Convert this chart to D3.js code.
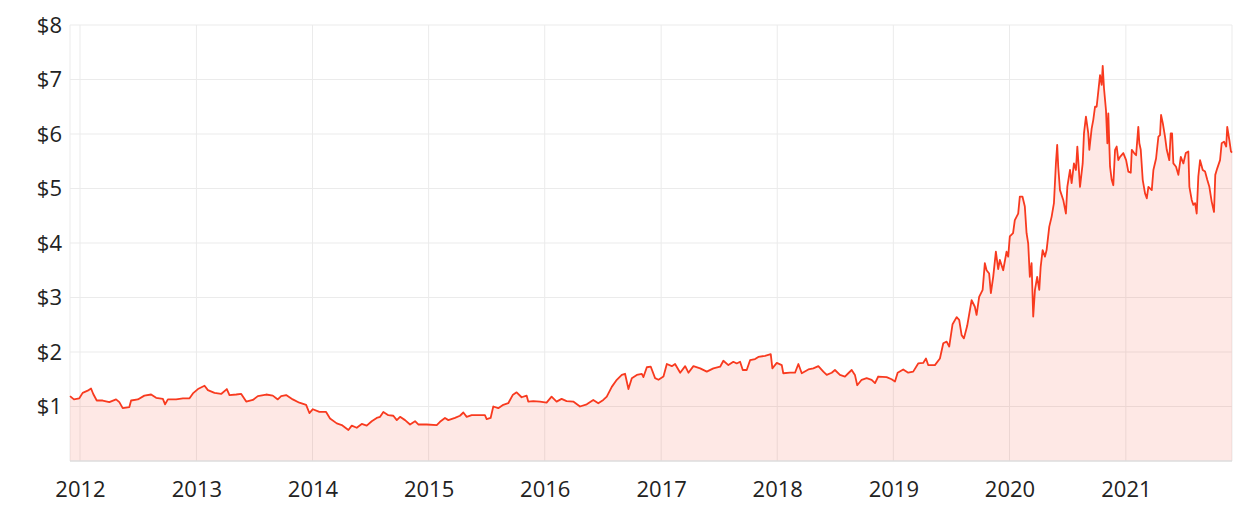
<!DOCTYPE html>
<html>
<head>
<meta charset="utf-8">
<script src="https://cdn.jsdelivr.net/npm/d3@7"></script>
<style>
  html, body { margin: 0; padding: 0; background: #fff; }
  svg { display: block; font-family: "Open Sans", "Noto Sans", sans-serif; }
</style>
</head>
<body>
<svg id="chart" width="1258" height="520"></svg>
<script>
// Time in decimal years, price in dollars
const years = [
  2011.914, 2011.948, 2011.994, 2012.023, 2012.066, 2012.095, 2012.114, 2012.144, 2012.195, 2012.252,
  2012.310, 2012.338, 2012.367, 2012.424, 2012.439, 2012.497, 2012.553, 2012.611, 2012.654, 2012.712,
  2012.731, 2012.755, 2012.826, 2012.884, 2012.941, 2012.970, 2013.013, 2013.070, 2013.099, 2013.156,
  2013.213, 2013.262, 2013.285, 2013.343, 2013.386, 2013.429, 2013.486, 2013.529, 2013.601, 2013.658,
  2013.701, 2013.730, 2013.773, 2013.830, 2013.887, 2013.945, 2013.973, 2014.003, 2014.059, 2014.117,
  2014.151, 2014.209, 2014.252, 2014.309, 2014.338, 2014.381, 2014.424, 2014.467, 2014.510, 2014.553,
  2014.582, 2014.610, 2014.653, 2014.696, 2014.726, 2014.754, 2014.797, 2014.840, 2014.883, 2014.911,
  2014.984, 2015.070, 2015.098, 2015.141, 2015.170, 2015.227, 2015.270, 2015.299, 2015.328, 2015.371,
  2015.485, 2015.500, 2015.534, 2015.557, 2015.600, 2015.643, 2015.686, 2015.724, 2015.758, 2015.801,
  2015.844, 2015.858, 2015.901, 2015.959, 2016.016, 2016.059, 2016.102, 2016.145, 2016.188, 2016.245,
  2016.303, 2016.361, 2016.417, 2016.460, 2016.503, 2016.533, 2016.576, 2016.619, 2016.662, 2016.690,
  2016.719, 2016.748, 2016.791, 2016.834, 2016.848, 2016.877, 2016.911, 2016.948, 2016.977, 2017.020,
  2017.049, 2017.092, 2017.120, 2017.164, 2017.207, 2017.235, 2017.278, 2017.336, 2017.393, 2017.450,
  2017.508, 2017.536, 2017.579, 2017.622, 2017.651, 2017.680, 2017.703, 2017.737, 2017.766, 2017.809,
  2017.837, 2017.895, 2017.944, 2017.958, 2017.996, 2018.039, 2018.052, 2018.110, 2018.153, 2018.182,
  2018.211, 2018.268, 2018.311, 2018.354, 2018.397, 2018.426, 2018.469, 2018.497, 2018.540, 2018.583,
  2018.612, 2018.641, 2018.669, 2018.689, 2018.727, 2018.770, 2018.813, 2018.842, 2018.870, 2018.942,
  2018.985, 2019.014, 2019.037, 2019.085, 2019.128, 2019.171, 2019.214, 2019.257, 2019.281, 2019.300,
  2019.358, 2019.401, 2019.430, 2019.459, 2019.481, 2019.510, 2019.545, 2019.567, 2019.588, 2019.608,
  2019.636, 2019.674, 2019.702, 2019.717, 2019.739, 2019.769, 2019.788, 2019.803, 2019.825, 2019.840,
  2019.860, 2019.883, 2019.903, 2019.917, 2019.946, 2019.975, 2019.989, 2020.003, 2020.031, 2020.046,
  2020.075, 2020.089, 2020.112, 2020.132, 2020.147, 2020.161, 2020.175, 2020.190, 2020.204, 2020.219,
  2020.238, 2020.256, 2020.268, 2020.285, 2020.305, 2020.319, 2020.342, 2020.362, 2020.382, 2020.399,
  2020.410, 2020.419, 2020.434, 2020.462, 2020.485, 2020.497, 2020.520, 2020.534, 2020.554, 2020.571,
  2020.583, 2020.606, 2020.629, 2020.640, 2020.657, 2020.677, 2020.686, 2020.706, 2020.720, 2020.735,
  2020.749, 2020.763, 2020.778, 2020.792, 2020.801, 2020.812, 2020.829, 2020.841, 2020.849, 2020.864,
  2020.878, 2020.892, 2020.907, 2020.921, 2020.935, 2020.950, 2020.978, 2021.002, 2021.021, 2021.042,
  2021.051, 2021.071, 2021.088, 2021.107, 2021.116, 2021.128, 2021.145, 2021.165, 2021.180, 2021.194,
  2021.223, 2021.237, 2021.260, 2021.280, 2021.294, 2021.303, 2021.318, 2021.337, 2021.352, 2021.374,
  2021.386, 2021.398, 2021.409, 2021.432, 2021.452, 2021.473, 2021.495, 2021.516, 2021.538, 2021.547,
  2021.567, 2021.581, 2021.596, 2021.610, 2021.624, 2021.639, 2021.662, 2021.682, 2021.701, 2021.719,
  2021.739, 2021.759, 2021.770, 2021.787, 2021.811, 2021.825, 2021.845, 2021.864, 2021.873, 2021.891,
  2021.905, 2021.914
];
const prices = [
  1.19, 1.13, 1.15, 1.25, 1.29, 1.33, 1.23, 1.11, 1.11, 1.08,
  1.13, 1.08, 0.97, 0.99, 1.11, 1.13, 1.20, 1.22, 1.16, 1.14,
  1.04, 1.13, 1.13, 1.15, 1.15, 1.24, 1.32, 1.38, 1.30, 1.25,
  1.23, 1.32, 1.21, 1.22, 1.23, 1.09, 1.12, 1.19, 1.22, 1.20,
  1.13, 1.19, 1.21, 1.13, 1.07, 1.03, 0.88, 0.95, 0.90, 0.90,
  0.78, 0.69, 0.66, 0.57, 0.65, 0.61, 0.68, 0.65, 0.73, 0.79,
  0.81, 0.90, 0.84, 0.83, 0.75, 0.81, 0.75, 0.67, 0.73, 0.67,
  0.67, 0.66, 0.72, 0.79, 0.75, 0.79, 0.83, 0.89, 0.81, 0.84,
  0.84, 0.77, 0.79, 1.00, 0.97, 1.03, 1.06, 1.21, 1.26, 1.17,
  1.20, 1.09, 1.10, 1.09, 1.07, 1.18, 1.09, 1.14, 1.10, 1.09,
  1.00, 1.04, 1.12, 1.06, 1.12, 1.18, 1.36, 1.49, 1.58, 1.60,
  1.32, 1.52, 1.58, 1.60, 1.54, 1.72, 1.73, 1.52, 1.49, 1.55,
  1.78, 1.74, 1.78, 1.62, 1.74, 1.62, 1.74, 1.70, 1.64, 1.70,
  1.73, 1.84, 1.76, 1.82, 1.79, 1.82, 1.67, 1.67, 1.85, 1.87,
  1.91, 1.93, 1.96, 1.70, 1.80, 1.76, 1.61, 1.62, 1.62, 1.78,
  1.61, 1.68, 1.70, 1.74, 1.64, 1.58, 1.62, 1.67, 1.58, 1.55,
  1.61, 1.67, 1.58, 1.39, 1.49, 1.52, 1.49, 1.43, 1.55, 1.54,
  1.50, 1.46, 1.62, 1.68, 1.62, 1.64, 1.79, 1.80, 1.88, 1.76,
  1.76, 1.88, 2.16, 2.19, 2.10, 2.51, 2.64, 2.59, 2.31, 2.25,
  2.48, 2.95, 2.83, 2.68, 3.01, 3.14, 3.63, 3.50, 3.44, 3.08,
  3.38, 3.84, 3.52, 3.69, 3.50, 3.84, 3.75, 4.12, 4.18, 4.42,
  4.54, 4.85, 4.85, 4.67, 4.18, 3.99, 3.38, 3.63, 2.65, 3.14,
  3.38, 3.14, 3.56, 3.87, 3.75, 3.87, 4.30, 4.48, 4.73, 5.46,
  5.80, 5.40, 4.97, 4.79, 4.54, 5.03, 5.34, 5.10, 5.46, 5.34,
  5.77, 5.03, 5.46, 6.01, 6.32, 6.01, 5.71, 6.10, 6.26, 6.50,
  6.50, 6.78, 7.08, 6.90, 7.25, 6.84, 6.44, 5.83, 6.38, 5.40,
  5.16, 5.06, 5.71, 5.77, 5.52, 5.58, 5.65, 5.52, 5.31, 5.29,
  5.71, 5.65, 5.61, 6.13, 5.83, 5.71, 5.16, 4.91, 4.82, 5.03,
  4.97, 5.34, 5.55, 5.95, 5.98, 6.35, 6.20, 5.95, 5.71, 5.52,
  6.01, 6.01, 5.46, 5.40, 5.25, 5.58, 5.46, 5.65, 5.68, 5.03,
  4.79, 4.70, 4.73, 4.54, 5.22, 5.52, 5.34, 5.31, 5.16, 5.03,
  4.76, 4.57, 5.25, 5.37, 5.52, 5.83, 5.86, 5.77, 6.13, 5.89,
  5.68, 5.66
];
const yTickValues = [1, 2, 3, 4, 5, 6, 7, 8];
const yTickLabels = ["$1", "$2", "$3", "$4", "$5", "$6", "$7", "$8"];
const xTickLabels = ["2012", "2013", "2014", "2015", "2016", "2017", "2018", "2019", "2020", "2021"];

function toDate(t) {
  const y = Math.floor(t);
  const s = Date.UTC(y, 0, 1), e = Date.UTC(y + 1, 0, 1);
  return new Date(s + (t - y) * (e - s));
}
const data = years.map((t, i) => ({ date: toDate(t), value: prices[i] }));

const margin = { left: 70, right: 26, top: 25, bottom: 59 };
const W = 1258, H = 520;
const svg = d3.select("#chart");

const x = d3.scaleUtc()
  .domain(d3.extent(data, d => d.date))
  .range([margin.left, W - margin.right]);
const y = d3.scaleLinear().domain([0, 8]).range([H - margin.bottom, margin.top]);

const xTicks = xTickLabels.map(s => new Date(Date.UTC(+s, 0, 1)));

// grid
const grid = svg.append("g");
grid.selectAll("line.h").data(yTickValues).join("line")
  .attr("x1", margin.left).attr("x2", W - margin.right)
  .attr("y1", d => y(d)).attr("y2", d => y(d))
  .attr("stroke", "#ebebeb").attr("stroke-width", 1);
grid.selectAll("line.v").data(xTicks).join("line")
  .attr("x1", d => x(d)).attr("x2", d => x(d))
  .attr("y1", margin.top).attr("y2", H - margin.bottom)
  .attr("stroke", "#ebebeb").attr("stroke-width", 1);
grid.append("line").attr("x1", margin.left).attr("x2", margin.left)
  .attr("y1", margin.top).attr("y2", H - margin.bottom).attr("stroke", "#ebebeb");
grid.append("line").attr("x1", W - margin.right).attr("x2", W - margin.right)
  .attr("y1", margin.top).attr("y2", H - margin.bottom).attr("stroke", "#ebebeb");

// area + line
const area = d3.area().x(d => x(d.date)).y0(y(0)).y1(d => y(d.value));
const line = d3.line().x(d => x(d.date)).y(d => y(d.value));
svg.append("path").datum(data).attr("d", area)
  .attr("fill", "rgba(250, 90, 70, 0.14)");
svg.append("path").datum(data).attr("d", line)
  .attr("fill", "none").attr("stroke", "#f83a1f").attr("stroke-width", 1.8)
  .attr("stroke-linejoin", "round");

svg.append("line").attr("x1", margin.left).attr("x2", W - margin.right)
  .attr("y1", y(0)).attr("y2", y(0)).attr("stroke", "#dcdcdc").attr("stroke-width", 1.5);

const xAxis = d3.axisBottom(x).tickValues(xTicks)
  .tickFormat((d, i) => xTickLabels[i]).tickSize(0).tickPadding(20);
const gx = svg.append("g").attr("transform", `translate(0,${y(0)})`).call(xAxis);
gx.select(".domain").remove();
gx.selectAll("text").attr("font-size", 22).attr("fill", "#222")
  .attr("font-family", "'Open Sans', sans-serif");

const yAxis = d3.axisLeft(y).tickValues(yTickValues)
  .tickFormat((d, i) => yTickLabels[i]).tickSize(0).tickPadding(8);
const gy = svg.append("g").attr("transform", `translate(${margin.left},0)`).call(yAxis);
gy.select(".domain").remove();
gy.selectAll("text").attr("font-size", 22).attr("fill", "#222")
  .attr("font-family", "'Open Sans', sans-serif");
</script>
</body>
</html>
